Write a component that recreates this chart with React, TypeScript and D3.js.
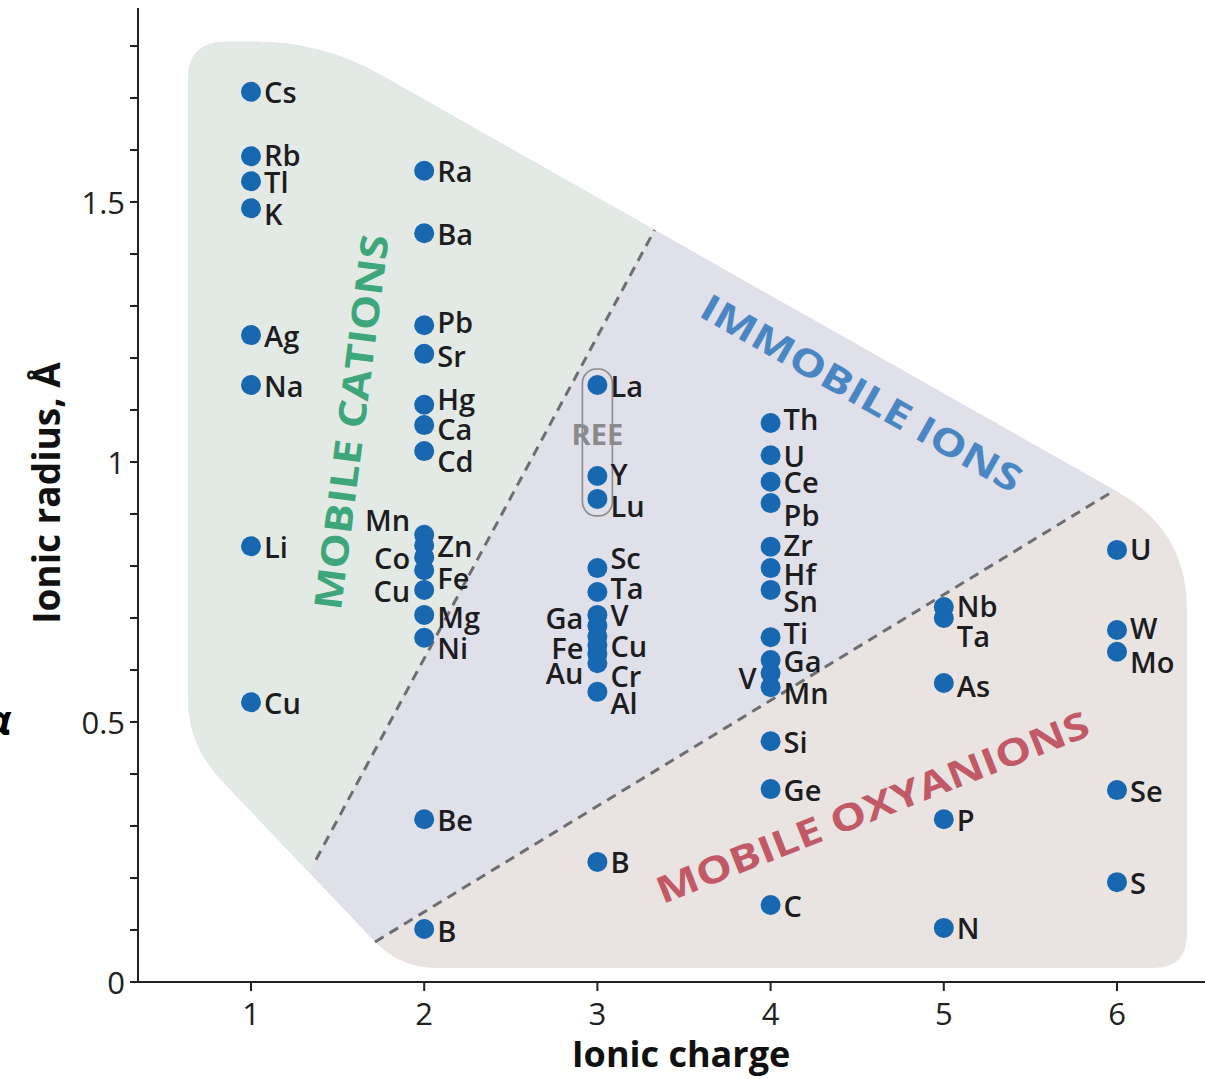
import React from "react";
import * as d3 from "d3";

// ---------- data ----------
const charges = [1, 2, 3, 4, 5, 6];
const yTickLabels = [0, 0.5, 1, 1.5];

const ions1 = ["Cs", "Rb", "Tl", "K", "Ag", "Na", "Li", "Cu"];
const radii1 = [1.712, 1.588, 1.54, 1.488, 1.244, 1.148, 0.838, 0.538];

const ions2 = ["Ra", "Ba", "Pb", "Sr", "Hg", "Ca", "Cd", "Mn", "Zn", "Co", "Fe", "Cu", "Mg", "Ni", "Be", "B"];
const radii2 = [1.56, 1.44, 1.263, 1.208, 1.11, 1.071, 1.021, 0.86, 0.84, 0.817, 0.792, 0.754, 0.706, 0.662, 0.313, 0.102];

const ions3 = ["La", "Y", "Lu", "Sc", "Ta", "V", "Ga", "Fe", "Cu", "Au", "Cr", "Al", "B"];
const radii3 = [1.148, 0.973, 0.929, 0.796, 0.75, 0.706, 0.685, 0.665, 0.648, 0.631, 0.613, 0.558, 0.231];

const ions4 = ["Th", "U", "Ce", "Pb", "Zr", "Hf", "Sn", "Ti", "Ga", "V", "Mn", "Si", "Ge", "C"];
const radii4 = [1.075, 1.013, 0.962, 0.921, 0.837, 0.796, 0.754, 0.663, 0.619, 0.594, 0.567, 0.463, 0.371, 0.148];

const ions5 = ["Nb", "Ta", "As", "P", "N"];
const radii5 = [0.721, 0.7, 0.575, 0.313, 0.104];

const ions6 = ["U", "W", "Mo", "Se", "S"];
const radii6 = [0.831, 0.677, 0.635, 0.369, 0.192];

const ionGroups = [
  { charge: 1, ions: ions1, radii: radii1 },
  { charge: 2, ions: ions2, radii: radii2 },
  { charge: 3, ions: ions3, radii: radii3 },
  { charge: 4, ions: ions4, radii: radii4 },
  { charge: 5, ions: ions5, radii: radii5 },
  { charge: 6, ions: ions6, radii: radii6 },
];

const reeIons = ["La", "Y", "Lu"];

// region outline (charge, radius) with corner rounding in px
const outline: [number, number, number][] = [
  [0.636, 1.808, 38],
  [1.41, 1.808, 80],
  [6.404, 0.867, 78],
  [6.404, 0.027, 34],
  [1.86, 0.027, 36],
  [0.636, 0.456, 48],
];
// dashed boundaries
const boundary1: [number, number][] = [[1.375, 0.235], [3.33, 1.446]];
const boundary2: [number, number][] = [[1.716, 0.077], [5.988, 0.946]];

// ---------- layout ----------
const W = 1205, H = 1079;
const x = d3.scaleLinear().domain([1, 6]).range([251, 1117]);
const y = d3.scaleLinear().domain([0, 1.5]).range([982, 202]);
const axisLeft = 138;
const axisTopV = 1.873;
const axisRight = 1205;

// label placement: side ("r"/"l") and vertical offset
const labelLayout: Record<string, [string, number]> = {
  "1-Rb": ["r", -2], "1-K": ["r", 5],
  "2-Hg": ["r", -6], "2-Ca": ["r", 3], "2-Cd": ["r", 9], "2-Pb": ["r", -4], "2-Sr": ["r", 2],
  "2-Mn": ["l", -15], "2-Co": ["l", 0], "2-Fe": ["r", 7], "2-Cu": ["l", 1], "2-Mg": ["r", 2], "2-Ni": ["r", 10], "2-B": ["r", 2],
  "3-Y": ["r", -3], "3-Lu": ["r", 7], "3-Sc": ["r", -11], "3-Ta": ["r", -5], "3-Ga": ["l", -8], "3-Fe": ["l", 11],
  "3-Au": ["l", 19], "3-Cr": ["r", 12], "3-Al": ["r", 11],
  "4-Th": ["r", -5], "4-Pb": ["r", 11], "4-Zr": ["r", -2], "4-Hf": ["r", 5], "4-Sn": ["r", 11], "4-Ti": ["r", -5],
  "4-V": ["l", 4], "4-Mn": ["r", 5],
  "5-Nb": ["r", -2], "5-Ta": ["r", 17], "5-As": ["r", 2],
  "6-U": ["r", -1], "6-W": ["r", -2], "6-Mo": ["r", 10],
};

const FONT = "'Open Sans', 'Noto Sans', sans-serif";
const DOT = "#1767b1";

function roundedPath(pts: [number, number, number][]) {
  const n = pts.length;
  let d = "";
  for (let i = 0; i < n; i++) {
    const p = pts[i], pr = pts[(i - 1 + n) % n], nx = pts[(i + 1) % n];
    const d1 = Math.hypot(pr[0] - p[0], pr[1] - p[1]);
    const d2 = Math.hypot(nx[0] - p[0], nx[1] - p[1]);
    const r = Math.min(p[2], d1 / 2, d2 / 2);
    const ax = p[0] + ((pr[0] - p[0]) / d1) * r, ay = p[1] + ((pr[1] - p[1]) / d1) * r;
    const bx = p[0] + ((nx[0] - p[0]) / d2) * r, by = p[1] + ((nx[1] - p[1]) / d2) * r;
    d += (i === 0 ? "M" : "L") + ax + "," + ay + "Q" + p[0] + "," + p[1] + " " + bx + "," + by;
  }
  return d + "Z";
}

function extend(line: [number, number][], t: number): [number, number] {
  const [a, b] = line;
  const ax = x(a[0]), ay = y(a[1]), bx = x(b[0]), by = y(b[1]);
  return [ax + (bx - ax) * t, ay + (by - ay) * t];
}

export default function App() {
  const outlinePx: [number, number, number][] = outline.map(([c, r, rr]) => [x(c), y(r), rr]);
  const shapeD = roundedPath(outlinePx);

  // blue: above boundary2; green: left of boundary1
  const b2a = extend(boundary2, -3), b2b = extend(boundary2, 3);
  const bluePoly = [b2a, b2b, [3000, -3000], [-3000, -3000]];
  const b1a = extend(boundary1, -3), b1b = extend(boundary1, 3);
  const greenPoly = [b1a, b1b, [-3000, b1b[1]], [-3000, b1a[1]]];
  const poly = (p: number[][]) => "M" + p.map((q) => q.join(",")).join("L") + "Z";

  const yTicks = d3.range(0, 19).map((i) => i / 10);

  const laY = y(radii3[ions3.indexOf(reeIons[0])]);
  const luY = y(radii3[ions3.indexOf(reeIons[2])]);

  const titleStyle = { fontFamily: FONT, fontWeight: 700 } as const;

  return (
    <svg width={W} height={H} style={{ position: "absolute", left: 0, top: 0, background: "#fff" }}>
      <defs>
        <clipPath id="shape">
          <path d={shapeD} />
        </clipPath>
      </defs>
      <g clipPath="url(#shape)">
        <rect x={0} y={0} width={W} height={H} fill="#e9e4e2" />
        <path d={poly(bluePoly as number[][])} fill="#e0e0eb" />
        <path d={poly(greenPoly as number[][])} fill="#e3eae5" />
      </g>
      {[boundary1, boundary2].map((b, i) => (
        <line key={i} x1={x(b[0][0])} y1={y(b[0][1])} x2={x(b[1][0])} y2={y(b[1][1])}
          stroke="#6e6e70" strokeWidth={3} strokeDasharray="10 7" />
      ))}

      {/* region titles */}
      <text transform="translate(350,422) rotate(-82.7)" textAnchor="middle" dominantBaseline="central"
        fontSize={38} fill="#3ea67b" style={titleStyle} textLength={378} lengthAdjust="spacingAndGlyphs">MOBILE CATIONS</text>
      <text transform="translate(862,392) rotate(29.5)" textAnchor="middle" dominantBaseline="central"
        fontSize={37} fill="#4a86c2" style={titleStyle} textLength={362} lengthAdjust="spacingAndGlyphs">IMMOBILE IONS</text>
      <text transform="translate(872,806) rotate(-21.5)" textAnchor="middle" dominantBaseline="central"
        fontSize={37} fill="#c15a66" style={titleStyle} textLength={462} lengthAdjust="spacingAndGlyphs">MOBILE OXYANIONS</text>

      {/* REE box */}
      <rect x={x(3) - 15} y={laY - 16} width={30} height={luY - laY + 33} rx={14}
        fill="none" stroke="#8c8c8e" strokeWidth={1.6} />
      <text x={x(3)} y={433} textAnchor="middle" dominantBaseline="central" fontSize={29}
        fill="#8a8a8c" style={titleStyle}>REE</text>

      {/* points */}
      {ionGroups.map((g) =>
        g.ions.map((el, i) => {
          const cx = x(g.charge), cy = y(g.radii[i]);
          return <circle key={g.charge + "c" + el} cx={cx} cy={cy} r={10} fill={DOT} />;
        })
      )}
      {ionGroups.map((g) =>
        g.ions.map((el, i) => {
          const cx = x(g.charge), cy = y(g.radii[i]);
          const lay = labelLayout[g.charge + "-" + el] || ["r", 0];
          const left = lay[0] === "l";
          return (
            <text key={g.charge + "t" + el} x={left ? cx - 14 : cx + 13} y={cy + lay[1]}
              textAnchor={left ? "end" : "start"} dominantBaseline="central"
              fontSize={29} fontWeight={600} fontFamily={FONT} fill="#1d1d1f">{el}</text>
          );
        })
      )}

      {/* axes */}
      <line x1={axisLeft} y1={y(axisTopV)} x2={axisLeft} y2={y(0) + 1} stroke="#222" strokeWidth={2} />
      <line x1={axisLeft - 1} y1={y(0)} x2={axisRight} y2={y(0)} stroke="#222" strokeWidth={2} />
      {yTicks.map((t) => (
        <line key={"yt" + t} x1={axisLeft - 8} x2={axisLeft} y1={y(t)} y2={y(t)} stroke="#222" strokeWidth={2} />
      ))}
      {yTickLabels.map((t) => (
        <text key={"yl" + t} x={125} y={y(t)} textAnchor="end" dominantBaseline="central"
          fontSize={31} fontFamily={FONT} fill="#222">{String(t)}</text>
      ))}
      {charges.map((c) => (
        <g key={"xt" + c}>
          <line x1={x(c)} x2={x(c)} y1={y(0)} y2={y(0) + 9} stroke="#222" strokeWidth={2} />
          <text x={x(c)} y={1013} textAnchor="middle" dominantBaseline="central" fontSize={31}
            fontFamily={FONT} fill="#222">{c}</text>
        </g>
      ))}
      <text x={681} y={1067} textAnchor="middle" fontSize={36} fill="#111"
        style={titleStyle}>Ionic charge</text>
      <text transform="translate(45,493) rotate(-90)" textAnchor="middle" dominantBaseline="central"
        fontSize={37} fill="#111" style={titleStyle}>Ionic radius, Å</text>

      {/* cropped glyph at left edge */}
      <text x={-14} y={735} fontSize={42} fontWeight={700} fontStyle="italic" fontFamily={FONT} fill="#000">α</text>
    </svg>
  );
}
